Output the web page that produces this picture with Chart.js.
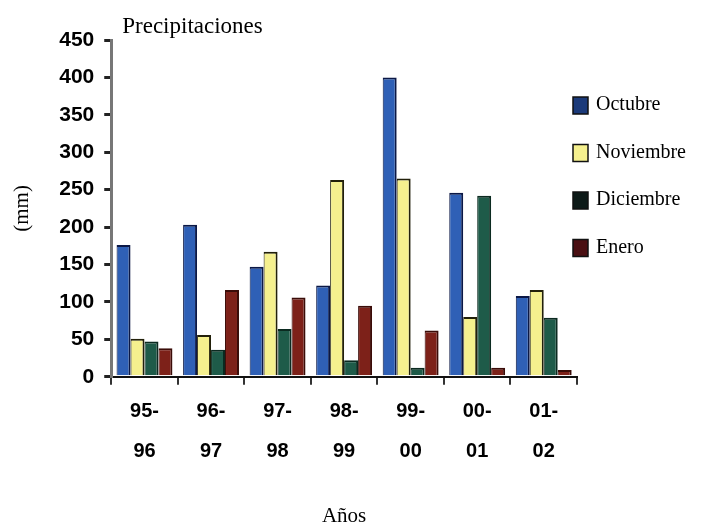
<!DOCTYPE html>
<html>
<head>
<meta charset="utf-8">
<script src="https://cdn.jsdelivr.net/npm/chart.js@4/dist/chart.umd.min.js"></script>
<style>
  body { margin: 0; background: #fff; }
  #wrap { width: 701px; height: 529px; }
</style>
</head>
<body>
<div id="wrap"><canvas id="rainChart" width="701" height="529"></canvas></div>
<script>
// seasons (two-line labels) and monthly rainfall in mm
const seasons = [['95-', '96'], ['96-', '97'], ['97-', '98'], ['98-', '99'], ['99-', '00'], ['00-', '01'], ['01-', '02']];
const octubre = [176, 203, 147, 122, 400, 246, 108];
const noviembre = [51, 56, 167, 263, 265, 80, 116];
const diciembre = [47, 36, 64, 22, 12, 242, 79];
const enero = [38, 116, 106, 95, 62, 12, 9];
const yTicks = { min: 0, max: 450, step: 50 };

const serif = "'Liberation Serif', 'DejaVu Serif', serif";
const sans = "'Liberation Sans', Arial, sans-serif";

// title and legend are painted by hand so the legend can sit beside the plot
const extrasPlugin = {
    id: 'extras',
    afterDraw(chart) {
        const ctx = chart.ctx;
        ctx.save();
        ctx.fillStyle = '#000';
        ctx.textBaseline = 'middle';
        ctx.font = '23px ' + serif;
        ctx.fillText('Precipitaciones', chart.chartArea.left + 11, 27);

        ctx.font = '20px ' + serif;
        chart.data.datasets.forEach((ds, i) => {
            const y = 105 + i * 47.5;
            ctx.fillStyle = ds.legendColor || ds.backgroundColor;
            ctx.fillRect(573, y - 8, 15, 17);
            ctx.strokeStyle = '#111';
            ctx.lineWidth = 1.5;
            ctx.strokeRect(573, y - 8, 15, 17);
            ctx.fillStyle = '#000';
            ctx.fillText(ds.label, 596, y);
        });
        ctx.restore();
    }
};

const rainData = {
    labels: seasons,
    datasets: [{
        label: 'Octubre',
        data: octubre,
        backgroundColor: '#2f60b6',
        legendColor: '#1b3a7a',
        borderColor: '#0b1846',
        borderWidth: { top: 2, left: 1, right: 2 }
    }, {
        label: 'Noviembre',
        data: noviembre,
        backgroundColor: '#f5f08e',
        borderColor: '#22200a',
        borderWidth: { top: 2, left: 1, right: 2 }
    }, {
        label: 'Diciembre',
        data: diciembre,
        backgroundColor: '#1e5b49',
        legendColor: '#0d1a18',
        borderColor: '#0b2a20',
        borderWidth: { top: 2, left: 1, right: 2 }
    }, {
        label: 'Enero',
        data: enero,
        backgroundColor: '#7d2119',
        legendColor: '#4a0f12',
        borderColor: '#3a0c08',
        borderWidth: { top: 2, left: 1, right: 2 }
    }]
};

const rainChart = new Chart(document.getElementById('rainChart').getContext('2d'), {
    type: 'bar',
    data: rainData,
    options: {
        responsive: false,
        animation: false,
        layout: { padding: { top: 40, right: 124, left: 10, bottom: 0 } },
        datasets: { bar: { categoryPercentage: 0.84, barPercentage: 1.0 } },
        plugins: {
            legend: { display: false },
            tooltip: { enabled: false }
        },
        scales: {
            x: {
                grid: { drawOnChartArea: false, drawTicks: true, tickLength: 8, color: '#333', lineWidth: 2 },
                border: { color: '#111', width: 2 },
                ticks: {
                    color: '#000',
                    font: { family: sans, size: 20, weight: 'bold', lineHeight: 2 },
                    padding: 7,
                    maxRotation: 0
                },
                title: {
                    display: true,
                    text: 'Años',
                    color: '#000',
                    font: { family: serif, size: 21 },
                    padding: { top: 25, bottom: 0 }
                }
            },
            y: {
                min: yTicks.min,
                max: yTicks.max,
                grid: { drawOnChartArea: false, drawTicks: true, tickLength: 7, color: '#222', lineWidth: 3 },
                border: { color: '#777', width: 3 },
                ticks: {
                    stepSize: yTicks.step,
                    color: '#000',
                    font: { family: sans, size: 21, weight: 'bold' },
                    padding: 10
                },
                title: {
                    display: true,
                    text: '(mm)',
                    color: '#000',
                    font: { family: serif, size: 21 },
                    padding: { top: 0, bottom: 14 }
                }
            }
        }
    },
    plugins: [extrasPlugin]
});
</script>
</body>
</html>
